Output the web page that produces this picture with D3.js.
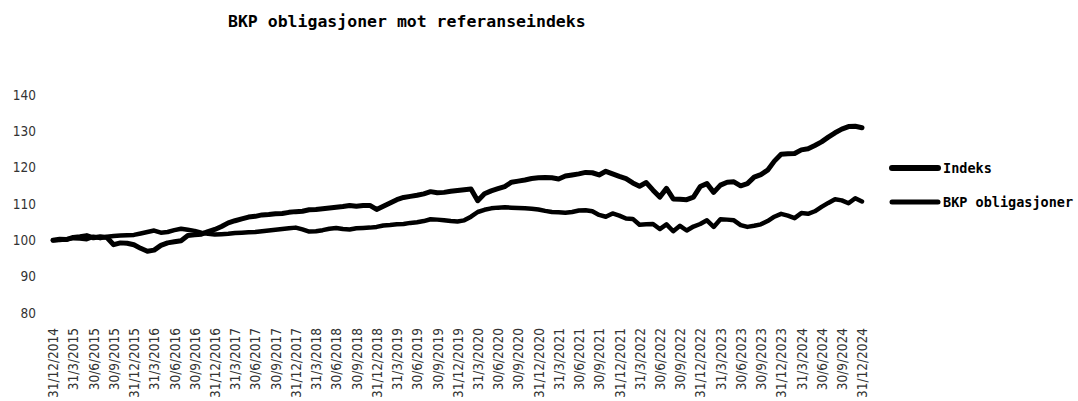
<!DOCTYPE html>
<html><head><meta charset="utf-8">
<script src="https://cdn.jsdelivr.net/npm/d3@7"></script>
<style>body{margin:0;background:#fff}svg{display:block}
.tk text{font-family:'DejaVu Sans Condensed','DejaVu Sans',sans-serif;font-stretch:condensed;}</style>
</head><body><div id="chart"></div>
<script>
const title = "BKP obligasjoner mot referanseindeks";
const seriesNames = ["Indeks", "BKP obligasjoner"];
const tickLabels = ["31/12/2014","31/3/2015","30/6/2015","30/9/2015","31/12/2015","31/3/2016","30/6/2016","30/9/2016","31/12/2016","31/3/2017","30/6/2017","30/9/2017","31/12/2017","31/3/2018","30/6/2018","30/9/2018","31/12/2018","31/3/2019","30/6/2019","30/9/2019","31/12/2019","31/3/2020","30/6/2020","30/9/2020","31/12/2020","31/3/2021","30/6/2021","30/9/2021","31/12/2021","31/3/2022","30/6/2022","30/9/2022","31/12/2022","31/3/2023","30/6/2023","30/9/2023","31/12/2023","31/3/2024","30/6/2024","30/9/2024","31/12/2024"];
const yTicks = [80, 90, 100, 110, 120, 130, 140];
// monthly values, 31/12/2014 .. 31/12/2024
const indeks = [100,100.3,100.2,100.8,101,101.3,100.7,101,100.8,98.8,99.3,99.2,98.8,97.8,97.0,97.3,98.6,99.3,99.6,99.9,101.3,101.5,101.7,102.4,103.0,103.8,104.8,105.4,105.9,106.4,106.6,107.0,107.1,107.3,107.4,107.7,107.9,108.0,108.4,108.5,108.7,108.9,109.1,109.3,109.6,109.4,109.6,109.6,108.5,109.4,110.3,111.2,111.8,112.1,112.4,112.8,113.4,113.1,113.2,113.5,113.7,113.9,114.1,110.9,112.8,113.6,114.2,114.8,116.0,116.3,116.6,117.0,117.2,117.3,117.2,116.9,117.7,118.0,118.3,118.7,118.6,118.0,119.0,118.3,117.6,117.0,115.8,114.9,115.9,113.8,111.9,114.3,111.4,111.3,111.2,111.9,114.8,115.6,113.2,115.2,116.0,116.1,115.0,115.6,117.4,118.1,119.3,121.8,123.7,123.8,123.9,124.9,125.2,126.1,127.1,128.4,129.6,130.6,131.3,131.4,131.0];
const bkp = [100,100.1,100.3,100.6,100.5,100.3,101.0,100.6,101.0,101.2,101.3,101.4,101.5,101.9,102.3,102.7,102.1,102.3,102.8,103.2,102.9,102.6,102.1,101.8,101.6,101.7,101.8,102.0,102.1,102.2,102.3,102.5,102.7,102.9,103.1,103.3,103.5,103.0,102.4,102.5,102.8,103.2,103.4,103.1,103.0,103.3,103.4,103.5,103.7,104.1,104.2,104.4,104.5,104.8,105.0,105.3,105.8,105.7,105.5,105.3,105.2,105.5,106.5,107.8,108.4,108.8,109.0,109.1,109.0,108.9,108.8,108.7,108.5,108.1,107.8,107.7,107.6,107.8,108.2,108.3,108.0,107.0,106.5,107.4,106.8,106.0,105.9,104.3,104.4,104.5,103.1,104.4,102.5,104.0,102.7,103.8,104.5,105.5,103.7,105.8,105.7,105.5,104.2,103.7,104.0,104.4,105.3,106.5,107.3,106.8,106.1,107.5,107.3,108.0,109.2,110.3,111.3,111.0,110.2,111.6,110.7];

const W = 1078, H = 401;
const svg = d3.select("#chart").append("svg").attr("width", W).attr("height", H);
const x = d3.scaleLinear().domain([0, indeks.length - 1]).range([53, 862]);
const y = d3.scaleLinear().domain([80, 140]).range([313, 95]);
const monoFont = "'DejaVu Sans Mono',monospace";

svg.append("text").attr("x", 228).attr("y", 27)
  .attr("font-family", monoFont).attr("font-weight", "bold").attr("font-size", 16.5)
  .attr("fill", "#000").text(title);

// y axis
const yAxis = svg.append("g").attr("class", "tk").attr("transform", "translate(36,0)")
  .call(d3.axisLeft(y).tickValues(yTicks).tickSize(0).tickPadding(0));
yAxis.select(".domain").remove();
yAxis.selectAll("text").attr("font-family", null).attr("font-size", 13.5).attr("fill", "#333");

// x axis
const xAxis = svg.append("g").attr("class", "tk").attr("transform", "translate(0,328)")
  .call(d3.axisBottom(x).tickValues(tickLabels.map((d, i) => i * 3))
    .tickFormat((d, i) => tickLabels[i]).tickSize(0).tickPadding(0));
xAxis.select(".domain").remove();
xAxis.selectAll("text")
  .attr("font-size", 13.5).attr("fill", "#333")
  .attr("transform", "rotate(-90)").attr("text-anchor", "end")
  .attr("x", 0).attr("y", 0).attr("dy", "0.35em");

const line = d3.line().x((d, i) => x(i)).y(d => y(d)).curve(d3.curveLinear);
const series = [
  {name: seriesNames[0], values: indeks, w: 5},
  {name: seriesNames[1], values: bkp, w: 4.5}
];
svg.selectAll(".ln").data(series).join("path").attr("class", "ln")
  .attr("d", d => line(d.values)).attr("fill", "none").attr("stroke", "#000")
  .attr("stroke-width", d => d.w).attr("stroke-linejoin", "round").attr("stroke-linecap", "round");

// legend
const lg = svg.append("g");
const ly = [168, 202];
series.forEach((s, i) => {
  lg.append("line").attr("x1", 892).attr("x2", 938).attr("y1", ly[i]).attr("y2", ly[i])
    .attr("stroke", "#000").attr("stroke-width", i === 0 ? 6 : 5).attr("stroke-linecap", "round");
  lg.append("text").attr("x", 943).attr("y", ly[i]).attr("dy", "0.35em")
    .attr("font-family", monoFont).attr("font-weight", "bold").attr("font-size", 13.5)
    .attr("fill", "#000").text(s.name);
});
</script></body></html>
